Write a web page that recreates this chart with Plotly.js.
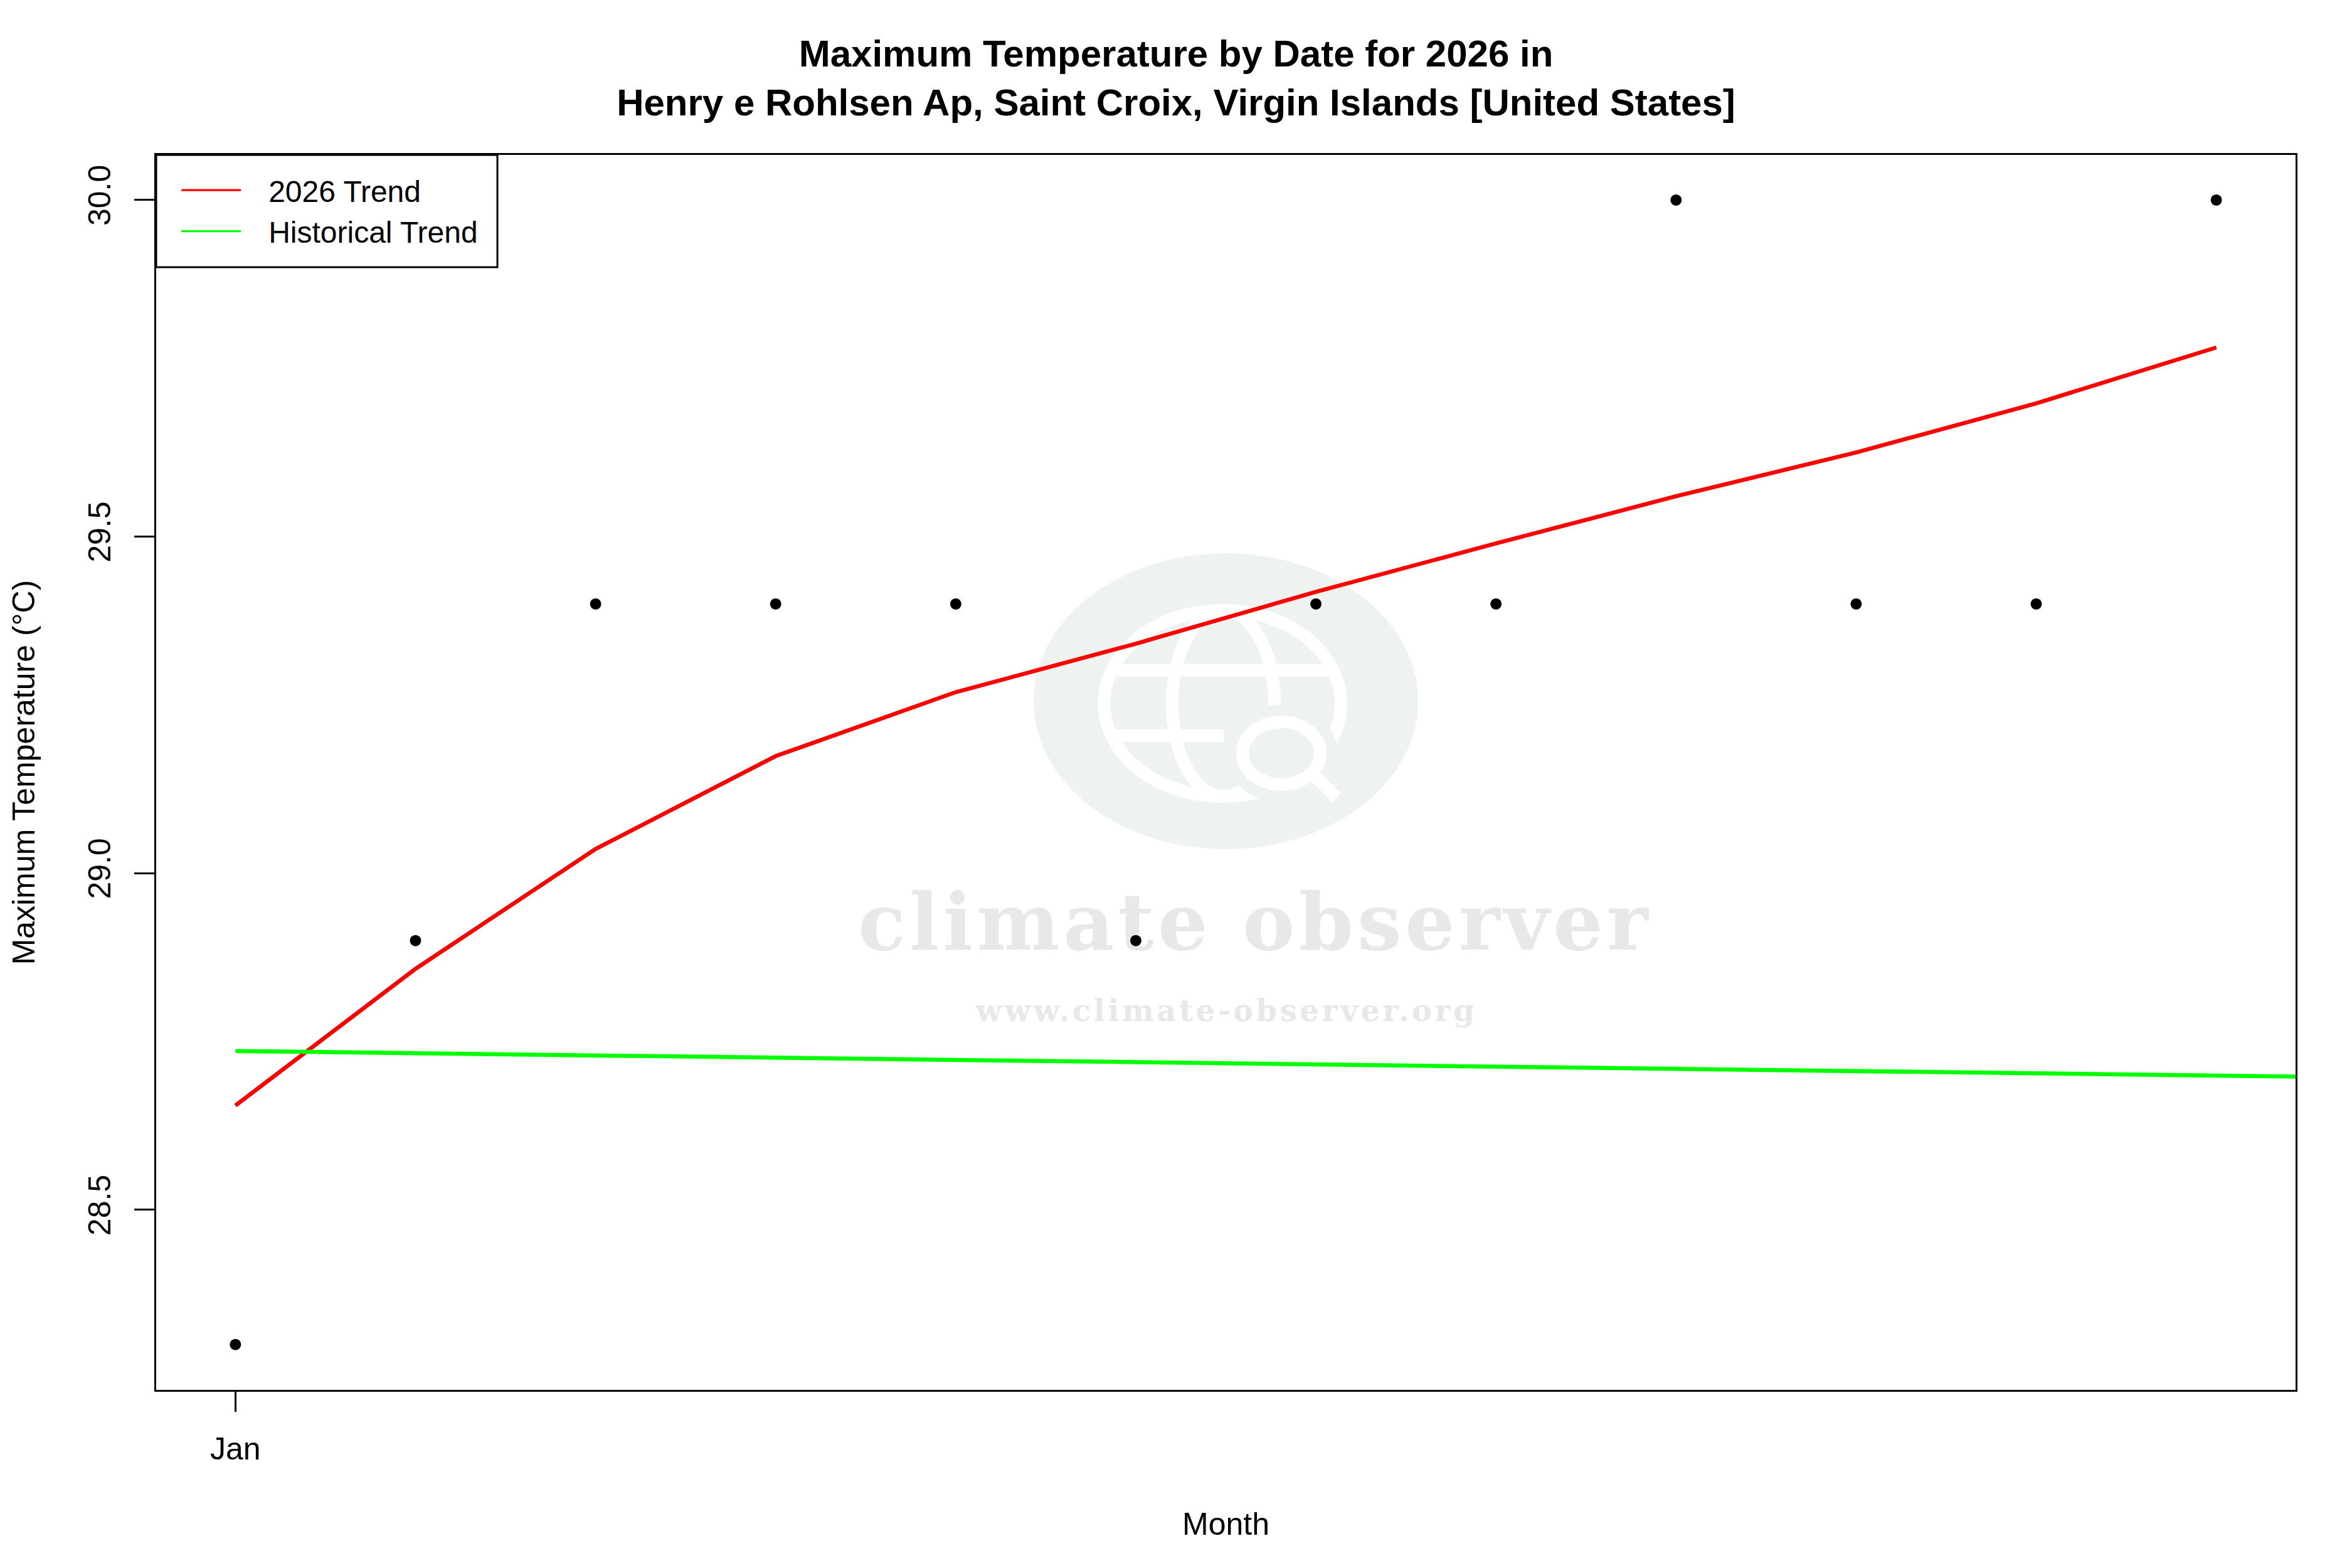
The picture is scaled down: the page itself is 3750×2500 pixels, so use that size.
<!DOCTYPE html>
<html><head><meta charset="utf-8">
<script src="https://cdn.plot.ly/plotly-3.0.1.min.js"></script>
<style>html,body{margin:0;padding:0;background:#fff}</style>
</head><body><div id="chart" style="width:3750px;height:2500px"></div>
<script>
// ---- data ----
const monthIndex = [1,2,3,4,5,6,7,8,9,10,11,12];
const maxTemp = [28.3,28.9,29.4,29.4,29.4,28.9,29.4,29.4,30.0,29.4,29.4,30.0];
const trend2026 = [28.655,28.858,29.036,29.174,29.269,29.341,29.418,29.490,29.560,29.625,29.698,29.781];
const histX = [1, 12.44];
const histTrend = [28.736, 28.698];
const xTickVals = [1];
const xTickText = ['Jan'];
const yTickVals = [28.5, 29.0, 29.5, 30.0];
const yTickText = ['28.5', '29.0', '29.5', '30.0'];

const FONT = 'Liberation Sans, Arial, Helvetica, sans-serif';

const traces = [
  {x: monthIndex, y: maxTemp, type: 'scatter', mode: 'markers',
   marker: {color: 'black', size: 18}, showlegend: false, hoverinfo: 'skip'},
  {x: monthIndex, y: trend2026, type: 'scatter', mode: 'lines', name: '2026 Trend',
   line: {color: '#ff0000', width: 6.5}},
  {x: histX, y: histTrend, type: 'scatter', mode: 'lines', name: 'Historical Trend',
   line: {color: '#00ff00', width: 6.5}}
];

const wmBg = '#eff3ef';
const P = (o) => Object.assign({xref: 'paper', yref: 'paper', layer: 'below'}, o);
const gy = 0.0036; // globe vertical nudge
const layout = {
  width: 3750, height: 2500,
  paper_bgcolor: 'white', plot_bgcolor: 'white',
  margin: {l: 249, r: 90, t: 247, b: 284},
  font: {family: FONT, size: 50, color: 'black'},
  title: {text: '<b>Maximum Temperature by Date for 2026 in<br>Henry e Rohlsen Ap, Saint Croix, Virgin Islands [United States]</b>',
          font: {family: FONT, size: 60, color: 'black'}, x: 0.5, xanchor: 'center',
          yref: 'container', y: 0.9576, yanchor: 'middle'},
  xaxis: {range: [0.56, 12.44], tickmode: 'array', tickvals: xTickVals, ticktext: xTickText,
          showgrid: false, zeroline: false, showline: true, mirror: true, linecolor: 'black', linewidth: 3,
          ticks: 'outside', ticklen: 32, tickwidth: 3, tickcolor: 'black', ticklabelstandoff: 16,
          tickfont: {size: 50},
          title: {text: 'Month', font: {size: 50}, standoff: 75}},
  yaxis: {range: [28.2326, 30.067], tickmode: 'array', tickvals: yTickVals, ticktext: yTickText,
          showgrid: false, zeroline: false, showline: true, mirror: true, linecolor: 'black', linewidth: 3,
          ticks: 'outside', ticklen: 32, tickwidth: 3, tickcolor: 'black', tickangle: -90, ticklabelstandoff: 18,
          tickfont: {size: 50},
          title: {text: 'Maximum Temperature (°C)', font: {size: 50}, standoff: 60}},
  legend: {x: 0.0103, y: 0.9906, xanchor: 'left', yanchor: 'top', bgcolor: 'rgba(0,0,0,0)', borderwidth: 0,
           font: {size: 48, family: FONT}, itemwidth: 95, tracegroupgap: 0},
  shapes: [
    // legend frame
    {type: 'rect', xref: 'paper', yref: 'paper', layer: 'above', x0: 0, x1: 0.1595, y0: 0.9091, y1: 1,
     fillcolor: 'rgba(0,0,0,0)', line: {color: 'black', width: 3}},
    // watermark badge
    P({type: 'circle', x0: 0.4101, x1: 0.5899, y0: 0.4378, y1: 0.6775, fillcolor: wmBg, line: {width: 0}}),
    P({type: 'circle', x0: 0.4430, x1: 0.5538, y0: 0.4769 + gy, y1: 0.6277 + gy, fillcolor: 'rgba(0,0,0,0)', line: {color: 'white', width: 20}}),
    P({type: 'circle', x0: 0.4749, x1: 0.5227, y0: 0.4769 + gy, y1: 0.6277 + gy, fillcolor: 'rgba(0,0,0,0)', line: {color: 'white', width: 20}}),
    P({type: 'line', x0: 0.4465, x1: 0.5503, y0: 0.5790 + gy, y1: 0.5790 + gy, line: {color: 'white', width: 20}}),
    P({type: 'line', x0: 0.4465, x1: 0.4990, y0: 0.5262 + gy, y1: 0.5262 + gy, line: {color: 'white', width: 20}}),
    P({type: 'circle', x0: 0.5078, x1: 0.5441, y0: 0.4865 + gy, y1: 0.5373 + gy, fillcolor: wmBg, line: {color: wmBg, width: 56}}),
    P({type: 'circle', x0: 0.5078, x1: 0.5441, y0: 0.4865 + gy, y1: 0.5373 + gy, fillcolor: wmBg, line: {color: 'white', width: 20}}),
    P({type: 'line', x0: 0.5405, x1: 0.5520, y0: 0.4950 + gy, y1: 0.4760 + gy, line: {color: 'white', width: 20}})
  ],
  annotations: [
    {text: '<b>climate observer</b>', xref: 'paper', yref: 'paper', x: 0.514, y: 0.379, showarrow: false,
     font: {family: 'DejaVu Serif, serif', size: 125, color: '#e8e8e8'}},
    {text: '<b>www.climate-observer.org</b>', xref: 'paper', yref: 'paper', x: 0.500, y: 0.292, showarrow: false,
     font: {family: 'DejaVu Serif, serif', size: 48, color: '#e8e8e8'}}
  ]
};

Plotly.newPlot('chart', traces, layout, {displayModeBar: false, staticPlot: true}).then(function (gd) {
  const texts = gd.querySelectorAll('.annotation-text');
  if (texts[0]) texts[0].style.letterSpacing = '6px';
  if (texts[1]) texts[1].style.letterSpacing = '4.5px';
  // put the watermark text underneath the data, as in the reference
  const below = gd.querySelector('.layer-below .shapelayer') || gd.querySelector('.layer-below');
  if (below) gd.querySelectorAll('.annotation').forEach(function (a) { below.appendChild(a); });
  // legend: thinner key lines and text further from the key, like R's legend()
  gd.querySelectorAll('.legend [clip-path]').forEach(function (el) { el.removeAttribute('clip-path'); });
  gd.querySelectorAll('.legend .legendlines path').forEach(function (p) { p.style.strokeWidth = '3.2px'; });
  gd.querySelectorAll('.legend .legendtext').forEach(function (t) {
    t.setAttribute('x', String(parseFloat(t.getAttribute('x') || '0') + 39));
  });
});
</script></body></html>
